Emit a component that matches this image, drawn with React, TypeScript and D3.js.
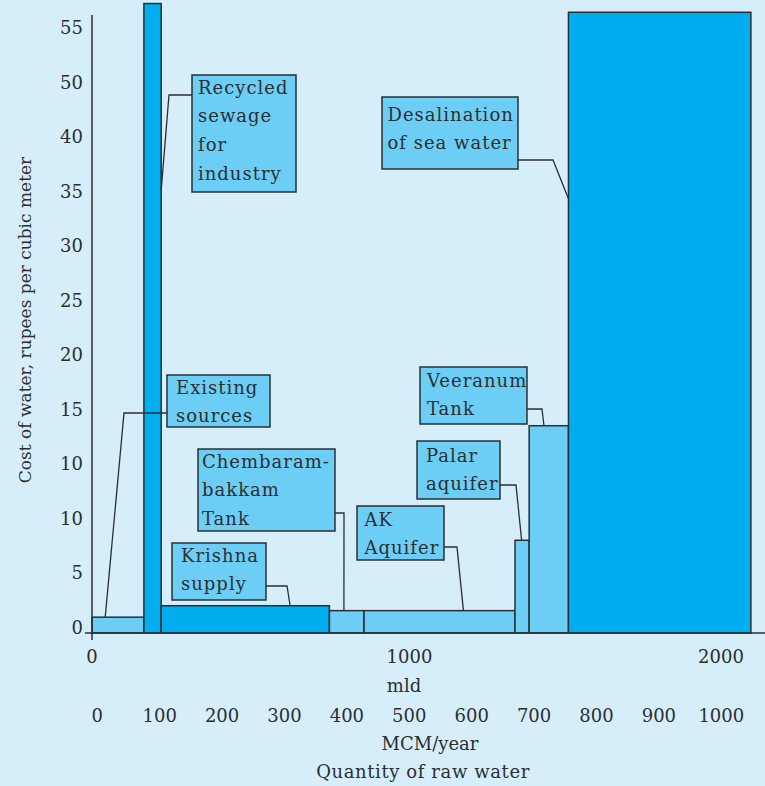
import React, { useRef, useEffect } from 'react';
import * as d3 from 'd3';

// supply sources, in order along the quantity axis
const sources = ['Existing sources', 'Recycled sewage', 'Krishna supply', 'Chembarambakkam Tank', 'AK Aquifer', 'Palar aquifer', 'Veeranum Tank', 'Desalination'];
const quantityMld = [165, 55, 535, 110, 480, 45, 125, 580];
const costRs = [1.45, 57.7, 2.5, 2.05, 2.05, 8.5, 19.0, 56.9];
const darkBar = [false, true, true, false, false, false, false, true];

const yTickValues = [0, 5, 10, 15, 20, 25, 30, 35, 40, 45, 50, 55];
const yTickLabels = ['0', '5', '10', '10', '15', '20', '25', '30', '35', '40', '50', '55'];
const mldTicks = [0, 1000, 2000];
const mcmTicks = [0, 100, 200, 300, 400, 500, 600, 700, 800, 900, 1000];

const W = 765;
const H = 786;
const FONT = '"DejaVu Serif", serif';
const BG = '#d5eefa';
const LIGHT = '#6ccef4';
const DARK = '#00aeef';
const INK = '#2b2f33';

// callout layout: box in px, leader goes from box edge to an elbow then to the bar
interface Callout {
  lines: string[];
  box: [number, number, number, number];
  pad: number;
  first: number;
  leaderY: number;
  side: 'left' | 'right';
  elbowX: number;
  bar: number;
  targetMld: number;
  targetCost?: number;
}

const callouts: Callout[] = [
  { lines: ['Existing', 'sources'], box: [167, 375, 103, 52], pad: 9, first: 18.5, leaderY: 413, side: 'left', elbowX: 124, bar: 0, targetMld: 42 },
  { lines: ['Recycled', 'sewage', 'for', 'industry'], box: [192, 75, 104, 117], pad: 6, first: 18.5, leaderY: 95, side: 'left', elbowX: 169, bar: 1, targetMld: 220, targetCost: 40.6 },
  { lines: ['Krishna', 'supply'], box: [172, 543, 94, 57], pad: 9, first: 18.5, leaderY: 586, side: 'right', elbowX: 287, bar: 2, targetMld: 630 },
  { lines: ['Chembaram-', 'bakkam', 'Tank'], box: [198, 449, 137, 82], pad: 4, first: 18.5, leaderY: 513, side: 'right', elbowX: 344, bar: 3, targetMld: 801 },
  { lines: ['AK', 'Aquifer'], box: [357, 506, 87, 54], pad: 7.5, first: 19.5, leaderY: 547, side: 'right', elbowX: 457, bar: 4, targetMld: 1181 },
  { lines: ['Palar', 'aquifer'], box: [417, 441, 83, 58], pad: 9, first: 20.5, leaderY: 485, side: 'right', elbowX: 516, bar: 5, targetMld: 1366 },
  { lines: ['Veeranum', 'Tank'], box: [420, 367, 107, 57], pad: 7, first: 19.5, leaderY: 409, side: 'right', elbowX: 542, bar: 6, targetMld: 1437 },
  { lines: ['Desalination', 'of sea water'], box: [382, 97, 136, 72], pad: 5.5, first: 23.5, leaderY: 160, side: 'right', elbowX: 553, bar: 7, targetMld: 1515, targetCost: 39.8 },
];

const App: React.FC = () => {
  const svgRef = useRef<SVGSVGElement>(null);

  useEffect(() => {
    document.body.style.margin = '0';
    if (!svgRef.current) return;
    const svg = d3.select(svgRef.current);
    svg.selectAll('*').remove();

    const x = d3.scaleLinear().domain([0, 2000]).range([92, 721]);
    const xMcm = d3.scaleLinear().domain([0, 1000]).range([97.3, 721.3]);
    const y = d3.scaleLinear().domain([0, 55]).range([633, 33]);

    svg.append('rect').attr('width', W).attr('height', H).attr('fill', BG);

    // bars: widths are quantities, stacked one after another
    const ends = d3.cumsum(quantityMld);
    const bars = quantityMld.map((q, i) => ({ name: sources[i], x0: ends[i] - q, x1: ends[i], cost: costRs[i], dark: darkBar[i] }));

    svg.append('g')
      .selectAll('rect')
      .data(bars)
      .join('rect')
      .attr('x', d => x(d.x0))
      .attr('y', d => y(d.cost))
      .attr('width', d => x(d.x1) - x(d.x0))
      .attr('height', d => y(0) - y(d.cost))
      .attr('fill', d => (d.dark ? DARK : LIGHT))
      .attr('stroke', INK)
      .attr('stroke-width', 1.5);

    // axes
    svg.append('line').attr('x1', x(0)).attr('x2', x(0)).attr('y1', 15).attr('y2', 640)
      .attr('stroke', INK).attr('stroke-width', 1.5);
    svg.append('line').attr('x1', x(0) - 7).attr('x2', W).attr('y1', y(0)).attr('y2', y(0))
      .attr('stroke', INK).attr('stroke-width', 1.5);

    const text = (sel: d3.Selection<SVGGElement, unknown, null, undefined>) => sel
      .attr('font-family', FONT).attr('fill', INK);

    const yAxis = svg.append('g').call(text).attr('font-size', 18).attr('text-anchor', 'end');
    yAxis.selectAll('text')
      .data(yTickValues)
      .join('text')
      .attr('x', 83)
      .attr('y', d => y(d) + 1)
      .text((d, i) => yTickLabels[i]);

    const xAxis = svg.append('g').call(text).attr('font-size', 18).attr('text-anchor', 'middle');
    xAxis.selectAll('text.mld')
      .data(mldTicks)
      .join('text')
      .attr('class', 'mld')
      .attr('x', d => x(d) + (d === 1000 ? 3 : 0))
      .attr('y', 663)
      .text(d => d);
    xAxis.selectAll('text.mcm')
      .data(mcmTicks)
      .join('text')
      .attr('class', 'mcm')
      .attr('x', d => xMcm(d))
      .attr('y', 722)
      .text(d => d);

    xAxis.append('text').attr('x', 404).attr('y', 692).text('mld');
    xAxis.append('text').attr('x', 430).attr('y', 750).text('MCM/year');
    xAxis.append('text').attr('x', 423).attr('y', 778).attr('letter-spacing', 0.6).text('Quantity of raw water');

    svg.append('text')
      .attr('font-family', FONT).attr('fill', INK).attr('font-size', 17)
      .attr('text-anchor', 'middle')
      .attr('transform', 'translate(31, 320) rotate(-90)')
      .text('Cost of water, rupees per cubic meter');

    // callouts
    const line = d3.line();
    callouts.forEach(c => {
      const [bx, by, bw, bh] = c.box;
      const startX = c.side === 'left' ? bx : bx + bw;
      const tx = x(c.targetMld);
      const ty = y(c.targetCost ?? costRs[c.bar]);
      svg.append('path')
        .attr('d', line([[startX, c.leaderY], [c.elbowX, c.leaderY], [tx, ty]]))
        .attr('fill', 'none')
        .attr('stroke', INK)
        .attr('stroke-width', 1.3);

      const g = svg.append('g');
      g.append('rect')
        .attr('x', bx).attr('y', by).attr('width', bw).attr('height', bh)
        .attr('fill', LIGHT).attr('stroke', INK).attr('stroke-width', 1.5);
      g.selectAll('text')
        .data(c.lines)
        .join('text')
        .attr('x', bx + c.pad)
        .attr('y', (d, i) => by + c.first + i * 28.8)
        .attr('font-family', FONT)
        .attr('font-size', 18)
        .attr('letter-spacing', 1)
        .attr('fill', INK)
        .text(d => d);
    });
  }, []);

  return <svg ref={svgRef} width={W} height={H} style={{ display: 'block' }} />;
};

export default App;
